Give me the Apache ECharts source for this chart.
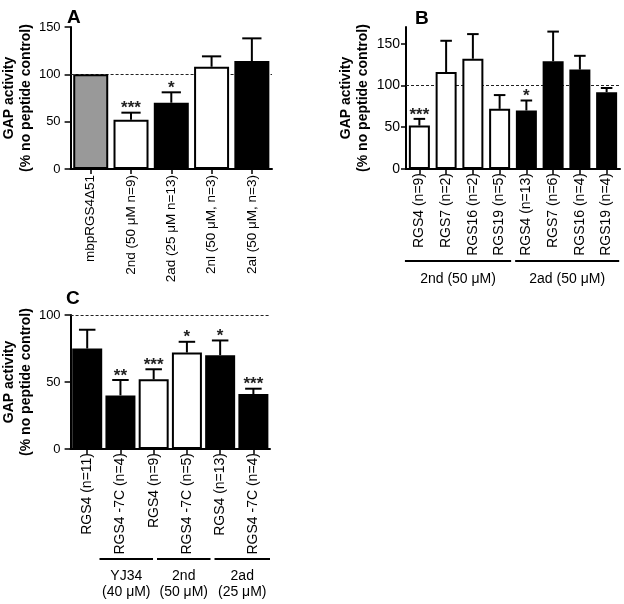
<!DOCTYPE html>
<html><head><meta charset="utf-8">
<script src="https://cdn.jsdelivr.net/npm/echarts@6/dist/echarts.min.js"></script>
<style>html,body{margin:0;padding:0;background:#fff}#c{width:624px;height:604px}</style>
</head><body><div id="c"></div>
<script>
// ---------- data ----------
const catA = ['mbpRGS4Δ51', '2nd (50 μM n=9)', '2ad (25 μM n=13)', '2nl (50 μM, n=3)', '2al (50 μM, n=3)'];
const valA = [100, 52, 70, 108, 114];
const errA = [0, 7.5, 11, 11, 24];
const starA = ['', '***', '*', '', ''];

const catB = ['RGS4 (n=9)', 'RGS7 (n=2)', 'RGS16 (n=2)', 'RGS19 (n=5)', 'RGS4 (n=13)', 'RGS7 (n=6)', 'RGS16 (n=4)', 'RGS19 (n=4)'];
const valB = [52, 116, 132, 72, 70, 129, 119, 92];
const errB = [8, 37.5, 29.5, 16.5, 12, 35.5, 16.5, 5];
const starB = ['***', '', '', '', '*', '', '', ''];
const groupNamesB = ['2nd (50 μM)', '2ad (50 μM)'];

const catC = ['RGS4 (n=11)', 'RGS4 -7C (n=4)', 'RGS4 (n=9)', 'RGS4 -7C (n=5)', 'RGS4 (n=13)', 'RGS4 -7C (n=4)'];
const valC = [75, 40, 52, 72, 70, 41];
const errC = [14, 11.5, 7.5, 8, 11, 4];
const starC = ['', '**', '***', '*', '*', '***'];
const groupNamesC = ['YJ34\n(40 μM)', '2nd\n(50 μM)', '2ad\n(25 μM)'];

const yTicksA = [0, 50, 100, 150];
const yTicksB = [0, 50, 100, 150];
const yTicksC = [0, 50, 100];
const refValue = 100;
const yName = 'GAP activity\n(% no peptide control)';

// ---------- styles (not data) ----------
const fillA = ['#999999', '#ffffff', '#000000', '#ffffff', '#000000'];
const fillB = ['#ffffff', '#ffffff', '#ffffff', '#ffffff', '#000000', '#000000', '#000000', '#000000'];
const fillC = ['#000000', '#000000', '#ffffff', '#ffffff', '#000000', '#000000'];
// bracket extents in category-index units (layout)
const spanB = [[-0.54, 3.43], [3.58, 7.47]];
const spanC = [[0.37, 1.98], [2.1, 3.71], [3.83, 5.5]];

const FONT = '"Liberation Sans", Arial, Helvetica, sans-serif';

function barData(vals, fills) {
  return vals.map((v, i) => ({ value: v, itemStyle: { color: fills[i] } }));
}
function errData(vals, errs) {
  return vals.map((v, i) => [i, v, errs[i]]);
}
function errRender(stars, barW, starSize) {
  return function (params, api) {
    const i = api.value(0);
    const v = api.value(1), e = api.value(2);
    const top = api.coord([i, v]);
    const hi = api.coord([i, v + e]);
    const cw = barW * 0.55;
    const children = [];
    if (e > 0) {
      children.push({ type: 'line', shape: { x1: top[0], y1: top[1], x2: hi[0], y2: hi[1] }, style: { stroke: '#000', lineWidth: 2 } });
      children.push({ type: 'line', shape: { x1: hi[0] - cw / 2, y1: hi[1], x2: hi[0] + cw / 2, y2: hi[1] }, style: { stroke: '#000', lineWidth: 2 } });
    }
    const s = stars[params.dataIndex];
    if (s) {
      children.push({ type: 'text', style: { text: s, x: hi[0], y: hi[1] - 4, align: 'center', verticalAlign: 'middle', font: 'bold ' + starSize + 'px ' + FONT, fill: '#222' } });
    }
    return { type: 'group', children };
  };
}
function yAxisCfg(gi, max, ticks, fs, gap, tickLen, margin) {
  return {
    gridIndex: gi, type: 'value', min: 0, max: max,
    name: yName, nameLocation: 'middle', nameGap: gap,
    nameTextStyle: { fontFamily: FONT, fontWeight: 'bold', fontSize: 14, lineHeight: 17, color: '#000' },
    axisLine: { show: true, lineStyle: { color: '#000', width: 2 } },
    axisTick: { show: true, length: tickLen, lineStyle: { color: '#000', width: 1.5 }, customValues: ticks },
    axisLabel: { fontFamily: FONT, fontSize: fs, color: '#000', margin: margin, customValues: ticks },
    splitLine: { show: false }
  };
}
function xAxisCfg(gi, cats, fs, margin) {
  return {
    gridIndex: gi, type: 'category', data: cats,
    axisLine: { show: true, lineStyle: { color: '#000', width: 2 } },
    axisTick: { show: true, alignWithLabel: true, length: 5, lineStyle: { color: '#000', width: 1.5 } },
    axisLabel: { rotate: 90, interval: 0, fontFamily: FONT, fontSize: fs, color: '#000', margin: margin }
  };
}
function refLine() {
  return {
    silent: true, symbol: 'none', z: 1,
    label: { show: false },
    lineStyle: { color: '#222', width: 1, type: [3, 2] },
    data: [{ yAxis: refValue }]
  };
}

const chart = echarts.init(document.getElementById('c'));
const option = {
  animation: false,
  backgroundColor: '#fff',
  title: [
    { text: 'A', left: 62, top: 3, textStyle: { fontFamily: FONT, fontSize: 19, fontWeight: 'bold', color: '#000' } },
    { text: 'B', left: 410, top: 4, textStyle: { fontFamily: FONT, fontSize: 19, fontWeight: 'bold', color: '#000' } },
    { text: 'C', left: 61, top: 284, textStyle: { fontFamily: FONT, fontSize: 19, fontWeight: 'bold', color: '#000' } }
  ],
  grid: [
    { left: 62, top: 27, width: 210, height: 142 },
    { left: 406, top: 27, width: 214, height: 142 },
    { left: 62, top: 315, width: 208, height: 134 }
  ],
  xAxis: [
    xAxisCfg(0, catA, 13.5, 6),
    xAxisCfg(1, catB, 14, 4),
    xAxisCfg(2, catC, 14, 4)
  ],
  yAxis: [
    yAxisCfg(0, 150, yTicksA, 13, 23, 6, 10),
    yAxisCfg(1, 170, yTicksB, 14, 34, 5, 6),
    yAxisCfg(2, 100, yTicksC, 13, 23, 6, 10)
  ],
  series: [
    { type: 'bar', xAxisIndex: 0, yAxisIndex: 0, barWidth: 35, z: 2, data: barData(valA, fillA), itemStyle: { borderColor: '#000', borderWidth: 2 }, markLine: refLine() },
    { type: 'custom', xAxisIndex: 0, yAxisIndex: 0, z: 3, data: errData(valA, errA), encode: { x: 0, y: 1 }, renderItem: errRender(starA, 35, 17) },
    { type: 'bar', xAxisIndex: 1, yAxisIndex: 1, barWidth: 21, z: 2, data: barData(valB, fillB), itemStyle: { borderColor: '#000', borderWidth: 2 }, markLine: refLine() },
    { type: 'custom', xAxisIndex: 1, yAxisIndex: 1, z: 3, data: errData(valB, errB), encode: { x: 0, y: 1 }, renderItem: errRender(starB, 21, 17) },
    { type: 'bar', xAxisIndex: 2, yAxisIndex: 2, barWidth: 30, z: 2, data: barData(valC, fillC), itemStyle: { borderColor: '#000', borderWidth: 2 }, markLine: refLine() },
    { type: 'custom', xAxisIndex: 2, yAxisIndex: 2, z: 3, data: errData(valC, errC), encode: { x: 0, y: 1 }, renderItem: errRender(starC, 30, 17) }
  ]
};
chart.setOption(option);

// group brackets computed from axis positions (category indices)
function catX(axisIdx, k) {
  const c0 = chart.convertToPixel({ xAxisIndex: axisIdx }, 0);
  const c1 = chart.convertToPixel({ xAxisIndex: axisIdx }, 1);
  return c0 + (c1 - c0) * k;
}
const graphics = [];
const yBaseB = chart.convertToPixel({ yAxisIndex: 1 }, 0);
spanB.forEach((s, gi) => {
  const x1 = catX(1, s[0]), x2 = catX(1, s[1]);
  const y = yBaseB + 92;
  graphics.push({ type: 'line', shape: { x1, y1: y, x2, y2: y }, style: { stroke: '#000', lineWidth: 2 } });
  graphics.push({ type: 'text', style: { text: groupNamesB[gi], x: (x1 + x2) / 2, y: y + 18, align: 'center', verticalAlign: 'middle', font: '14px ' + FONT, fill: '#000' } });
});
const yBaseC = chart.convertToPixel({ yAxisIndex: 2 }, 0);
spanC.forEach((s, gi) => {
  const x1 = catX(2, s[0]), x2 = catX(2, s[1]);
  const y = yBaseC + 110;
  graphics.push({ type: 'line', shape: { x1, y1: y, x2, y2: y }, style: { stroke: '#000', lineWidth: 2 } });
  graphics.push({ type: 'text', style: { text: groupNamesC[gi], x: (x1 + x2) / 2, y: y + 25, align: 'center', verticalAlign: 'middle', font: '14px ' + FONT, lineHeight: 16, fill: '#000' } });
});
chart.setOption({ graphic: graphics });
</script>
</body></html>
